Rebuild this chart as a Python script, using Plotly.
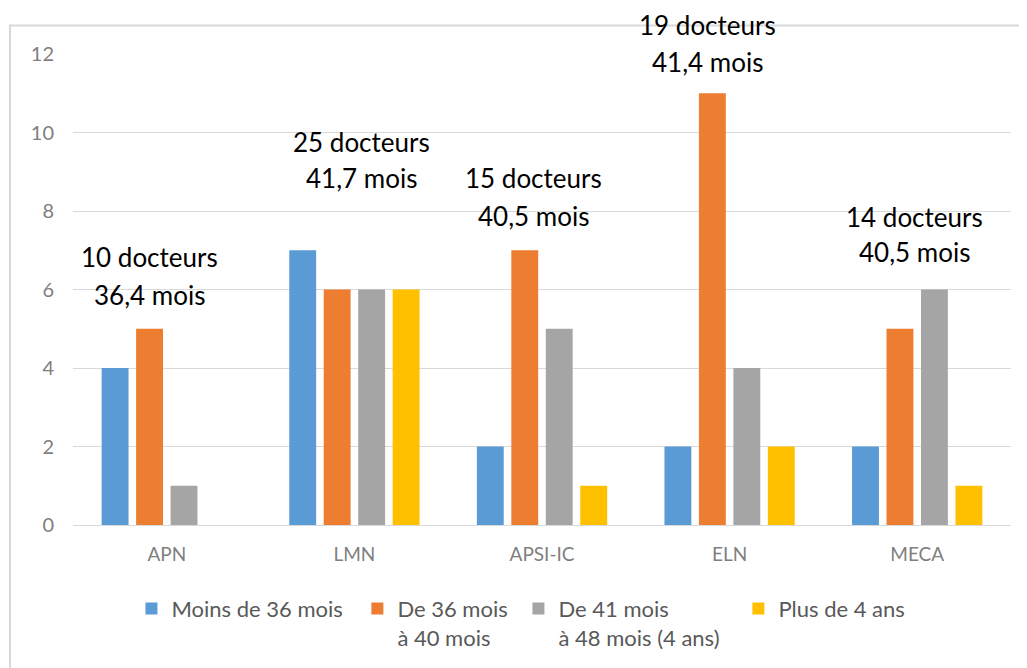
import plotly.graph_objects as go

categories = ["APN", "LMN", "APSI-IC", "ELN", "MECA"]
series_names = ["Moins de 36 mois", "De 36 mois<br>à 40 mois", "De 41 mois<br>à 48 mois (4 ans)", "Plus de 4 ans"]
moins_36 = [4, 7, 2, 2, 2]
de_36_40 = [5, 6, 7, 11, 5]
de_41_48 = [1, 6, 5, 4, 6]
plus_4ans = [0, 6, 1, 2, 1]
colors = ["#5B9BD5", "#ED7D31", "#A5A5A5", "#FFC000"]

annot_line1 = ["10 docteurs", "25 docteurs", "15 docteurs", "19 docteurs", "14 docteurs"]
annot_line2 = ["36,4 mois", "41,7 mois", "40,5 mois", "41,4 mois", "40,5 mois"]
# vertical position of each label line (fraction of plot height) and horizontal offset (px)
annot_y1 = [0.570, 0.814, 0.736, 1.061, 0.653]
annot_y2 = [0.489, 0.736, 0.657, 0.983, 0.579]
annot_xshift = [-17, 7, -9, -22, -3]

legend_x = [0.1202, 0.3402, 0.4970, 0.7112]

FONT = "Lato, Open Sans, sans-serif"

fig = go.Figure()
for i, (name, vals, col) in enumerate(zip(series_names, [moins_36, de_36_40, de_41_48, plus_4ans], colors)):
    lg = "legend" if i == 0 else f"legend{i+1}"
    fig.add_trace(go.Bar(x=categories, y=vals, name=name, legend=lg,
                         marker=dict(color=col, line=dict(width=0))))

for c, t1, t2, y1, y2, xs in zip(categories, annot_line1, annot_line2, annot_y1, annot_y2, annot_xshift):
    for t, yv in ((t1, y1), (t2, y2)):
        fig.add_annotation(x=c, xref="x", y=yv, yref="paper", text=t, showarrow=False, xshift=xs,
                           xanchor="center", yanchor="middle",
                           font=dict(family=FONT, size=26, color="#000000"), align="center")

fig.add_shape(type="rect", xref="paper", yref="paper", x0=-0.0672, x1=1.05, y0=-0.4, y1=1.0604,
              line=dict(color="#D9D9D9", width=2), fillcolor="rgba(0,0,0,0)", layer="below")

legend_common = dict(orientation="h", xref="container", yref="container", xanchor="left",
                     y=0.132, yanchor="top", font=dict(family=FONT, size=22, color="#595959"),
                     itemwidth=30, valign="top", bgcolor="rgba(0,0,0,0)")
fig.update_layout(
    width=1027, height=668,
    margin=dict(l=65, r=24, t=46, b=151),
    paper_bgcolor="white", plot_bgcolor="white",
    barmode="group", bargap=0.265, bargroupgap=0.22,
    font=dict(family=FONT, size=16, color="#595959"),
    legend=dict(x=legend_x[0], **legend_common),
    legend2=dict(x=legend_x[1], **legend_common),
    legend3=dict(x=legend_x[2], **legend_common),
    legend4=dict(x=legend_x[3], **legend_common),
    showlegend=True,
)
fig.update_yaxes(range=[0, 12], dtick=2, showgrid=True, gridcolor="#D9D9D9", gridwidth=1,
                 zeroline=True, zerolinecolor="#D9D9D9", zerolinewidth=1, showline=False,
                 ticks="", ticklabelstandoff=18, tickfont=dict(size=20, color="#7F7F7F"))
fig.update_xaxes(showgrid=False, showline=False, ticks="", tickfont=dict(size=19, color="#7F7F7F"),
                 ticklabelstandoff=16)

fig.write_html("out.html")
